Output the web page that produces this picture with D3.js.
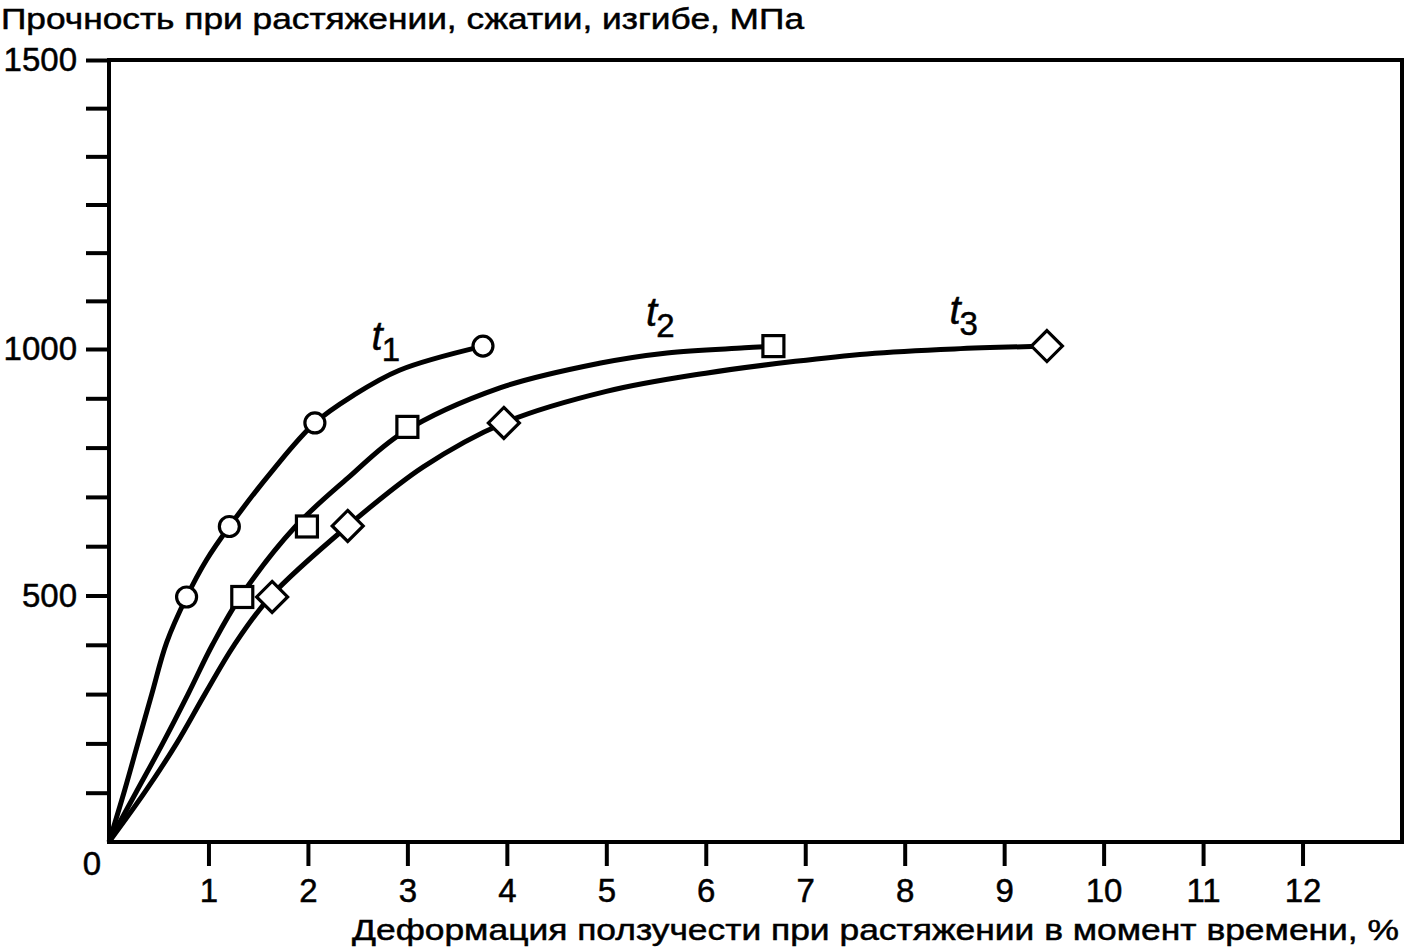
<!DOCTYPE html>
<html>
<head>
<meta charset="utf-8">
<script src="https://cdn.jsdelivr.net/npm/d3@7/dist/d3.min.js"></script>
<style>
  body { margin: 0; background: #fff; }
  svg { display: block; font-family: "Liberation Sans", Arial, sans-serif; }
  svg text { fill: #000; stroke: #000; stroke-width: 0.5px; }
  .curve { fill: none; stroke: #000; stroke-width: 5; stroke-linejoin: round; }
  .mark { fill: #fff; stroke: #000; stroke-width: 3.2; }
  .axis line { stroke: #000; stroke-width: 4; }
  .axis text { font-size: 33px; }
</style>
</head>
<body>
<script>
// curves: [deformation %, strength MPa]
const curveT1 = [[0,0],[0.15,100],[0.29,200],[0.43,300],[0.58,405],[0.78,497],[0.98,572],[1.21,640],[1.65,755],[2.07,850],[2.45,905],[2.92,957],[3.76,1005]];
const curveT2 = [[0,0],[0.27,100],[0.54,200],[0.80,302],[1.04,400],[1.32,497],[1.87,639],[2.40,738],[2.95,830],[3.93,921],[4.93,971],[5.61,992],[6.39,1002],[6.68,1005]];
const curveT3 = [[0,0],[0.36,101],[0.68,200],[0.97,302],[1.26,400],[1.62,497],[2.40,641],[3.16,761],[3.97,850],[5.0,914],[6.0,951],[6.9,975],[7.62,990],[8.5,1000],[9.43,1005]];

// measured points (markers)
const pointsT1 = [[0.78,497],[1.21,640],[2.07,850],[3.76,1005]];
const pointsT2 = [[1.34,497],[1.99,640],[3.0,842],[6.68,1005]];
const pointsT3 = [[1.64,497],[2.40,641],[3.97,850],[9.43,1005]];

const xTicks = [1,2,3,4,5,6,7,8,9,10,11,12];
const yMajor = [500, 1000, 1500];
const yMinor = [100,200,300,400,600,700,800,900, 1083.3,1166.7,1250,1333.3,1416.7];

const series = [
  {name: "t", sub: "1", curve: curveT1, points: pointsT1, shape: "circle", lx: 2.64, ly: 998},
  {name: "t", sub: "2", curve: curveT2, points: pointsT2, shape: "square", lx: 5.4, ly: 1040},
  {name: "t", sub: "3", curve: curveT3, points: pointsT3, shape: "diamond", lx: 8.45, ly: 1044}
];

const W = 1410, H = 947;
const mLeft = 109, mRight = 1402, mTop = 60, mBottom = 842;

const x = d3.scaleLinear().domain([0, 13]).range([mLeft, mRight]);
// the original axis is not uniform above 1000
const y = d3.scaleLinear().domain([0, 1000, 1500]).range([mBottom, 349, mTop]);

const svg = d3.select("body").append("svg")
  .attr("width", W).attr("height", H);

// titles
svg.append("text")
  .attr("x", 1).attr("y", 29)
  .attr("font-size", 30)
  .attr("textLength", 803)
  .attr("lengthAdjust", "spacingAndGlyphs")
  .text("Прочность при растяжении, сжатии, изгибе, МПа");

svg.append("text")
  .attr("x", 352).attr("y", 940)
  .attr("font-size", 30)
  .attr("textLength", 1047)
  .attr("lengthAdjust", "spacingAndGlyphs")
  .text("Деформация ползучести при растяжении в момент времени, %");

// y axis
const yAxis = svg.append("g")
  .attr("class", "axis")
  .attr("transform", `translate(${mLeft},0)`)
  .call(d3.axisLeft(y)
    .tickValues(yMinor.concat(yMajor))
    .tickSize(23)
    .tickPadding(9)
    .tickFormat(d => yMajor.includes(d) ? d : ""));
yAxis.select(".domain").remove();

// x axis
const xAxis = svg.append("g")
  .attr("class", "axis")
  .attr("transform", `translate(0,${mBottom})`)
  .call(d3.axisBottom(x)
    .tickValues(xTicks)
    .tickSize(24)
    .tickPadding(13)
    .tickFormat(d3.format("d")));
xAxis.select(".domain").remove();

svg.append("text")
  .attr("x", 92).attr("y", 875)
  .attr("text-anchor", "middle")
  .attr("font-size", 33)
  .text("0");

// frame
svg.append("rect")
  .attr("x", mLeft).attr("y", mTop)
  .attr("width", mRight - mLeft).attr("height", mBottom - mTop)
  .attr("fill", "none").attr("stroke", "#000").attr("stroke-width", 4);

const line = d3.line()
  .x(d => x(d[0]))
  .y(d => y(d[1]))
  .curve(d3.curveCatmullRom.alpha(0.5));

svg.selectAll(".curve")
  .data(series)
  .enter()
  .append("path")
  .attr("class", "curve")
  .attr("d", d => line(d.curve));

// markers and labels
series.forEach(s => {
  const g = svg.append("g");
  s.points.forEach(p => {
    const cx = x(p[0]), cy = y(p[1]);
    if (s.shape === "circle") {
      g.append("circle").attr("class", "mark")
        .attr("cx", cx).attr("cy", cy).attr("r", 10);
    } else if (s.shape === "square") {
      g.append("rect").attr("class", "mark")
        .attr("x", cx - 10.5).attr("y", cy - 10.5)
        .attr("width", 21).attr("height", 21);
    } else {
      const r = 15.5;
      g.append("path").attr("class", "mark")
        .attr("d", `M${cx},${cy - r}L${cx + r},${cy}L${cx},${cy + r}L${cx - r},${cy}Z`);
    }
  });

  const t = svg.append("text")
    .attr("x", x(s.lx)).attr("y", y(s.ly));
  t.append("tspan")
    .attr("font-size", 40).attr("font-style", "italic")
    .text(s.name);
  t.append("tspan")
    .attr("font-size", 33).attr("dx", -1).attr("dy", 11)
    .text(s.sub);
});
</script>
</body>
</html>
